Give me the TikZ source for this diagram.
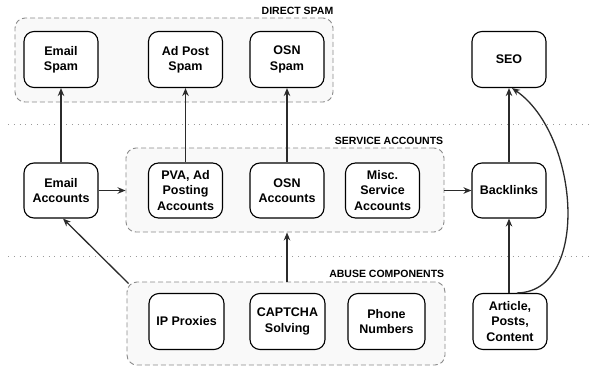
\documentclass[tikz,border=0pt]{standalone}
\usepackage{fontspec}
\setmainfont{Liberation Sans}
\usetikzlibrary{arrows.meta,calc}
\definecolor{grpfill}{HTML}{F9F9F9}
\definecolor{grpline}{HTML}{8A8A8A}
\definecolor{dotline}{HTML}{9A9A9A}
\definecolor{arr}{HTML}{2B2B2B}
\tikzset{
  box/.style={draw=black, line width=1.1pt, rounded corners=10pt, fill=white,
    minimum width=74pt, minimum height=56pt, align=center, inner sep=1pt,
    font=\fontsize{12.5}{15.3}\selectfont\bfseries},
  grp/.style={draw=grpline, dashed, dash pattern=on 5pt off 3pt, line width=0.9pt,
    rounded corners=10pt, fill=grpfill, minimum width=318pt, minimum height=84pt, inner sep=0pt},
  glabel/.style={font=\fontsize{10.5}{12}\selectfont\bfseries, inner sep=0pt, anchor=south east},
  conn/.style={draw=arr, line width=1.3pt, -{Stealth[length=8pt,width=6.5pt]}},
  sep/.style={draw=dotline, line width=0.8pt, dash pattern=on 0.8pt off 5pt}
}
\begin{document}
\begin{tikzpicture}[x=1pt,y=-1pt]
\useasboundingbox (0,0) rectangle (591,369);
% separators
\coordinate (s1a) at (8,124); \coordinate (s1b) at (591,124);
\coordinate (s2a) at (8,256); \coordinate (s2b) at (591,256);
\draw[sep] (s1a) -- (s1b);
\draw[sep] (s2a) -- (s2b);
% groups
\node[grp] (direct) at (174,60) {};
\node[grp] (service) at (285,190) {};
\node[grp, minimum height=83pt] (abuse) at (286,323.5) {};
\node[glabel] (ldirect) at ($(direct.north east)+(0,-3)$) {DIRECT SPAM};
\node[glabel] (lservice) at ($(service.north east)+(-1,-2.5)$) {SERVICE ACCOUNTS};
\node[glabel] (labuse) at ($(abuse.north east)+(-1,-4)$) {ABUSE COMPONENTS};
% top row
\node[box] (espam) at (61,59.5) {Email\\Spam};
\node[box] (adspam) at (185.5,59.5) {Ad Post\\Spam};
\node[box] (osnspam) at (287,59.5) {OSN\\Spam};
\node[box] (seo) at (509,59.5) {SEO};
% middle row
\node[box, minimum height=55pt] (eacc) at (61,190.5) {Email\\Accounts};
\node[box, minimum height=55pt] (pva) at (185.5,190.5) {PVA, Ad\\Posting\\Accounts};
\node[box, minimum height=55pt] (osnacc) at (287,190.5) {OSN\\Accounts};
\node[box, minimum height=55pt] (misc) at (382.5,190.5) {Misc.\\Service\\Accounts};
\node[box, minimum height=55pt] (back) at (509,190.5) {Backlinks};
% bottom row
\node[box, minimum width=75pt] (ip) at (186.5,321.5) {IP Proxies};
\node[box, minimum width=75pt] (captcha) at (287.5,321.5) {CAPTCHA\\Solving};
\node[box, minimum width=77pt] (phone) at (386.5,321.5) {Phone\\Numbers};
\node[box] (art) at (510,321.5) {Article,\\Posts,\\Content};
% connectors
\draw[conn] (eacc) -- (espam);
\draw[conn] (pva) -- (adspam);
\draw[conn] (osnacc) -- (osnspam);
\draw[conn] (back) -- (seo);
\draw[conn] (art.north -| back) -- (back.south);
\draw[conn] (eacc.east) -- (eacc.east -| service.west);
\draw[conn] (service.east |- back.west) -- (back.west);
\draw[conn] (abuse.north -| osnacc) -- (osnacc |- service.south);
\draw[conn] ($(abuse.north west)+(2,2)$) -- ([xshift=2pt]eacc.south);
\draw[conn] ([xshift=7pt]art.north) .. controls (590,292) and (580,135) .. ([xshift=3pt]seo.south);
\end{tikzpicture}
\end{document}
